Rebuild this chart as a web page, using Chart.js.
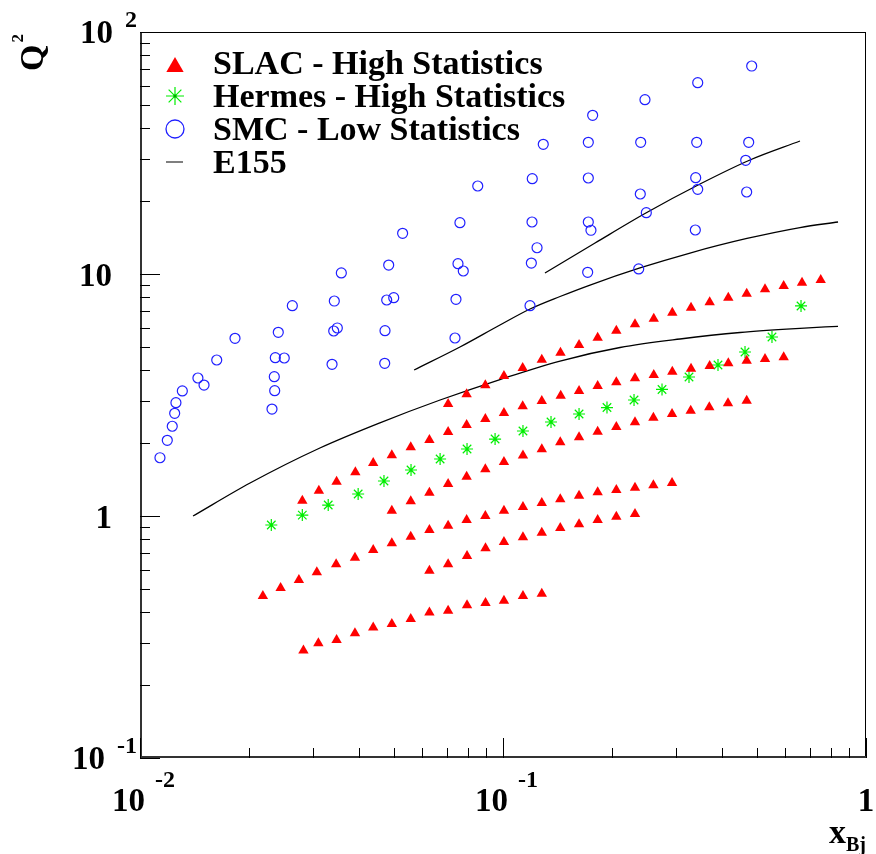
<!DOCTYPE html>
<html><head><meta charset="utf-8">
<script src="https://cdn.jsdelivr.net/npm/chart.js@4/dist/chart.umd.min.js"></script>
<style>html,body{margin:0;padding:0;background:#fff}canvas{display:block}</style>
</head><body>
<canvas id="c" width="876" height="854"></canvas>
<script>
// ---- data: [x_Bj, Q^2] ----
const slacA = [[0.0282,0.278],[0.0310,0.298],[0.0348,0.307],[0.0391,0.328],[0.0439,0.346],[0.0494,0.358],[0.0557,0.375],[0.0627,0.399],[0.0706,0.406],[0.0796,0.428],[0.0895,0.437],[0.1006,0.447],[0.1135,0.467],[0.1279,0.477]];
const slacB = [[0.0218,0.467],[0.0244,0.504],[0.0274,0.544],[0.0307,0.586],[0.0347,0.632],[0.0391,0.672],[0.0439,0.724],[0.0494,0.771],[0.0557,0.821],[0.0627,0.875],[0.0706,0.912],[0.0794,0.963],[0.0894,1.000],[0.1006,1.052],[0.1135,1.089],[0.1279,1.132],[0.1438,1.172],[0.1620,1.213],[0.1823,1.253],[0.2052,1.281],[0.2310,1.309],[0.2596,1.339],[0.2922,1.369]];
const slacC = [[0.0627,0.594],[0.0706,0.632],[0.0796,0.683],[0.0895,0.735],[0.1006,0.781],[0.1135,0.817],[0.1279,0.853],[0.1438,0.892],[0.1620,0.924],[0.1823,0.963],[0.2052,0.993],[0.2310,1.019]];
const slacD = [[0.0494,1.052],[0.0557,1.150],[0.0627,1.248],[0.0706,1.356],[0.0794,1.454],[0.0894,1.560],[0.1006,1.672],[0.1135,1.778],[0.1279,1.888],[0.1438,2.016],[0.1620,2.114],[0.1823,2.230],[0.2052,2.333],[0.2310,2.439],[0.2596,2.548],[0.2922,2.639],[0.3289,2.723],[0.3701,2.813],[0.4167,2.922],[0.4692,2.995]];
const slacE = [[0.0280,1.157],[0.0311,1.272],[0.0348,1.386],[0.0392,1.515],[0.0439,1.656],[0.0494,1.783],[0.0557,1.922],[0.0627,2.061],[0.0706,2.224],[0.0794,2.377],[0.0894,2.516],[0.1006,2.665],[0.1133,2.840],[0.1279,2.987],[0.1442,3.142],[0.1620,3.286],[0.1823,3.445],[0.2052,3.568],[0.2310,3.707],[0.2602,3.825],[0.2927,3.948],[0.3296,4.062],[0.3710,4.168],[0.4175,4.276],[0.4692,4.383],[0.5270,4.456],[0.5932,4.528]];
const slacF = [[0.0706,2.902],[0.0794,3.184],[0.0894,3.469],[0.1006,3.789],[0.1133,4.089],[0.1279,4.425],[0.1440,4.729],[0.1620,5.088],[0.1823,5.455],[0.2052,5.832],[0.2310,6.196],[0.2602,6.536],[0.2927,6.920],[0.3296,7.256],[0.3710,7.638],[0.4175,7.982],[0.4692,8.291],[0.5270,8.646],[0.5932,8.921],[0.6664,9.204],[0.7503,9.445]];
const hermes = [[0.0230,0.918],[0.0280,1.009],[0.0330,1.110],[0.0399,1.233],[0.0470,1.395],[0.0558,1.549],[0.0671,1.720],[0.0796,1.892],[0.0951,2.080],[0.1135,2.245],[0.1356,2.446],[0.1620,2.639],[0.1934,2.807],[0.2296,3.015],[0.2742,3.333],[0.3254,3.753],[0.3911,4.207],[0.4642,4.761],[0.5508,5.492],[0.6622,7.377]];
const smc = [[0.01135,1.741],[0.01189,2.055],[0.01227,2.349],[0.01246,2.657],[0.01256,2.939],[0.01308,3.286],[0.01444,3.717],[0.01501,3.477],[0.01627,4.412],[0.01827,5.424],
  [0.0231,2.767],[0.0235,3.295],[0.02344,3.763],[0.02359,4.509],[0.02497,4.497],[0.02404,5.743],[0.02628,7.396],[0.03381,4.236],[0.03417,5.814],[0.03496,5.983],
  [0.0343,7.733],[0.03586,10.10],[0.04722,4.276],[0.04731,5.832],[0.04782,7.808],[0.0500,7.982],[0.04843,10.89],[0.4843,72.35],[0.3439,61.73],[0.2461,52.51],
  [0.1766,45.27],[0.1291,34.36],[0.1718,35.02],[0.2395,35.02],[0.3417,35.02],[0.4752,35.02],[0.4662,29.50],[0.0852,23.10],[0.1204,24.76],[0.1718,24.93],
  [0.3395,25.00],[0.3439,22.39],[0.4691,21.82],[0.2389,21.41],[0.2482,17.92],[0.0761,16.29],[0.1202,16.40],[0.1718,16.40],[0.1747,15.16],[0.3387,15.20],
  [0.0529,14.73],[0.1241,12.84],[0.07516,11.03],[0.07773,10.29],[0.1197,11.10],[0.1711,10.16],[0.2365,10.49],[0.07421,7.861],[0.1187,7.396],[0.07375,5.439]];
const e155Low = [[0.0140,1.000],[0.0201,1.369],[0.0313,1.910],[0.0458,2.427],[0.0671,3.015],[0.0981,3.664],[0.1436,4.370],[0.2101,4.969],[0.3074,5.387],[0.4497,5.732],[0.6579,5.965],[0.8374,6.080]];
const e155Mid = [[0.0569,4.011],[0.0761,4.992],[0.0981,6.156],[0.1187,7.168],[0.1436,8.073],[0.1737,9.005],[0.2384,10.59],[0.3275,12.21],[0.4700,14.02],[0.6579,15.56],[0.8374,16.40]];
const e155High = [[0.1305,10.10],[0.1793,13.43],[0.2461,17.78],[0.3489,23.54],[0.4790,29.59],[0.6579,35.45]];

const legendLabels = ['SLAC - High Statistics','Hermes - High Statistics','SMC - Low Statistics','E155'];
const xTicks = [[0.01,'10','-2'],[0.1,'10','-1'],[1,'1','']];
const yTicks = [[0.1,'10','-1'],[1,'1',''],[10,'10',''],[100,'10','2']];

const RED = '#ff0000', GREEN = '#00ee00', BLUE = '#2020ff';
const SERIF = '"Liberation Serif","Times New Roman",serif';
const toXY = arr => arr.map(([x, y]) => ({x, y}));

function drawTri(ctx, x, y, r) {
  ctx.beginPath();
  for (let i = 0; i < 3; i++) {
    const a = i * 2 * Math.PI / 3;
    const px = x + Math.sin(a) * r, py = y - Math.cos(a) * r;
    i ? ctx.lineTo(px, py) : ctx.moveTo(px, py);
  }
  ctx.closePath(); ctx.fillStyle = RED; ctx.fill();
}
function drawStar(ctx, x, y, r) {
  ctx.beginPath();
  for (let i = 0; i < 4; i++) {
    const a = i * Math.PI / 4;
    ctx.moveTo(x - Math.cos(a) * r, y - Math.sin(a) * r);
    ctx.lineTo(x + Math.cos(a) * r, y + Math.sin(a) * r);
  }
  ctx.strokeStyle = GREEN; ctx.lineWidth = 1.2; ctx.stroke();
  ctx.beginPath(); ctx.arc(x, y, 1.6, 0, 2 * Math.PI); ctx.fillStyle = '#00aa00'; ctx.fill();
}

const rootStyle = {
  id: 'rootStyle',
  afterDraw(chart) {
    const {ctx, chartArea: a, scales: {x, y}} = chart;
    ctx.save();
    // frame
    ctx.strokeStyle = '#000'; ctx.lineWidth = 1;
    ctx.strokeRect(a.left + 0.5, a.top + 0.5, a.right - a.left - 1, a.bottom - a.top - 1);
    ctx.strokeStyle = '#333'; ctx.lineWidth = 2;
    ctx.beginPath(); ctx.moveTo(a.left + 1, a.top); ctx.lineTo(a.left + 1, a.bottom - 1); ctx.lineTo(a.right, a.bottom - 1); ctx.stroke();
    // ticks
    ctx.strokeStyle = '#000'; ctx.lineWidth = 1;
    ctx.beginPath();
    for (let d = -2; d <= 0; d++) for (let k = 1; k <= 9; k++) {
      const v = k * Math.pow(10, d);
      if (v < 0.01 - 1e-9 || v > 1 + 1e-9) continue;
      const px = Math.round(x.getPixelForValue(v)) + 0.5;
      const len = k === 1 ? 20 : 10;
      ctx.moveTo(px, a.bottom); ctx.lineTo(px, a.bottom - len);
    }
    for (let d = -1; d <= 2; d++) for (let k = 1; k <= 9; k++) {
      const v = k * Math.pow(10, d);
      if (v < 0.1 - 1e-9 || v > 100 + 1e-9) continue;
      const py = Math.round(y.getPixelForValue(v)) + 0.5;
      const len = k === 1 ? 20 : 10;
      ctx.moveTo(a.left, py); ctx.lineTo(a.left + len, py);
    }
    ctx.stroke();
    // tick labels
    ctx.fillStyle = '#000';
    ctx.textBaseline = 'alphabetic';
    const baseFont = 'bold 33px ' + SERIF, expFont = 'bold 24px ' + SERIF;
    xTicks.forEach(([v, b, e]) => {
      const px = x.getPixelForValue(v);
      if (!e) { ctx.font = baseFont; ctx.textAlign = 'center'; ctx.fillText(b, px, 811); return; }
      ctx.textAlign = 'left';
      ctx.font = baseFont; const wb = ctx.measureText(b).width;
      const start = px - 28;
      ctx.fillText(b, start, 811);
      ctx.font = expFont; ctx.fillText(e, start + wb + 10, 787);
    });
    yTicks.forEach(([v, b, e]) => {
      const py = y.getPixelForValue(v);
      if (!e) { ctx.font = baseFont; ctx.textAlign = 'right'; ctx.fillText(b, 112, py + 12); return; }
      ctx.font = expFont; ctx.textAlign = 'right';
      const we = ctx.measureText(e).width;
      ctx.fillText(e, 137, py - 5);
      ctx.font = baseFont; ctx.fillText(b, 137 - we - 12, py + 11);
    });
    // axis titles
    ctx.save();
    ctx.translate(43, 71); ctx.rotate(-Math.PI / 2);
    ctx.textAlign = 'left'; ctx.font = 'bold 34px ' + SERIF;
    ctx.fillText('Q', 0, 0);
    const wq = ctx.measureText('Q').width;
    ctx.font = 'bold 17px ' + SERIF; ctx.fillText('2', wq + 2, -20);
    ctx.restore();
    ctx.textAlign = 'right';
    ctx.font = 'bold 20px ' + SERIF; ctx.fillText('Bj', 866, 851);
    const wbj = ctx.measureText('Bj').width;
    ctx.font = 'bold 34px ' + SERIF; ctx.fillText('x', 866 - wbj, 843);
    // legend
    const ly = [65, 96, 129, 162], lb = [74, 107, 140, 173];
    drawTri(ctx, 175, ly[0] + 2, 10);
    drawStar(ctx, 175, ly[1], 9);
    ctx.beginPath(); ctx.arc(175, ly[2], 9, 0, 2 * Math.PI); ctx.strokeStyle = BLUE; ctx.lineWidth = 1.3; ctx.stroke();
    ctx.beginPath(); ctx.moveTo(166, ly[3]); ctx.lineTo(183, ly[3]); ctx.strokeStyle = '#555'; ctx.lineWidth = 1.5; ctx.stroke();
    ctx.fillStyle = '#000'; ctx.textAlign = 'left'; ctx.font = 'bold 34px ' + SERIF;
    legendLabels.forEach((t, i) => ctx.fillText(t, 213, lb[i]));
    ctx.restore();
  }
};

const lineDs = (d) => ({data: toXY(d), showLine: true, borderColor: '#000', borderWidth: 1.3, pointRadius: 0, fill: false, cubicInterpolationMode: 'monotone'});

new Chart(document.getElementById('c'), {
  type: 'scatter',
  data: {
    datasets: [
      {label: 'SLAC - High Statistics', data: toXY([].concat(slacA, slacB, slacC, slacD, slacE, slacF)), pointStyle: 'triangle', pointRadius: 6, backgroundColor: RED, borderColor: RED, borderWidth: 0},
      {label: 'Hermes - High Statistics', data: toXY(hermes), pointStyle: 'star', pointRadius: 6, backgroundColor: GREEN, borderColor: GREEN, borderWidth: 1.2},
      {label: 'SMC - Low Statistics', data: toXY(smc), pointStyle: 'circle', pointRadius: 5, backgroundColor: 'rgba(0,0,0,0)', borderColor: BLUE, borderWidth: 1.2},
      Object.assign({label: 'E155'}, lineDs(e155Low)),
      Object.assign({label: 'E155 mid'}, lineDs(e155Mid)),
      Object.assign({label: 'E155 high'}, lineDs(e155High))
    ]
  },
  options: {
    responsive: false, animation: false, devicePixelRatio: 1,
    layout: {padding: {left: 140, top: 32, right: 10, bottom: 96}},
    plugins: {legend: {display: false}, tooltip: {enabled: false}},
    scales: {
      x: {type: 'logarithmic', min: 0.01, max: 1, display: false},
      y: {type: 'logarithmic', min: 0.1, max: 100, display: false}
    }
  },
  plugins: [rootStyle]
});
</script>
</body></html>
